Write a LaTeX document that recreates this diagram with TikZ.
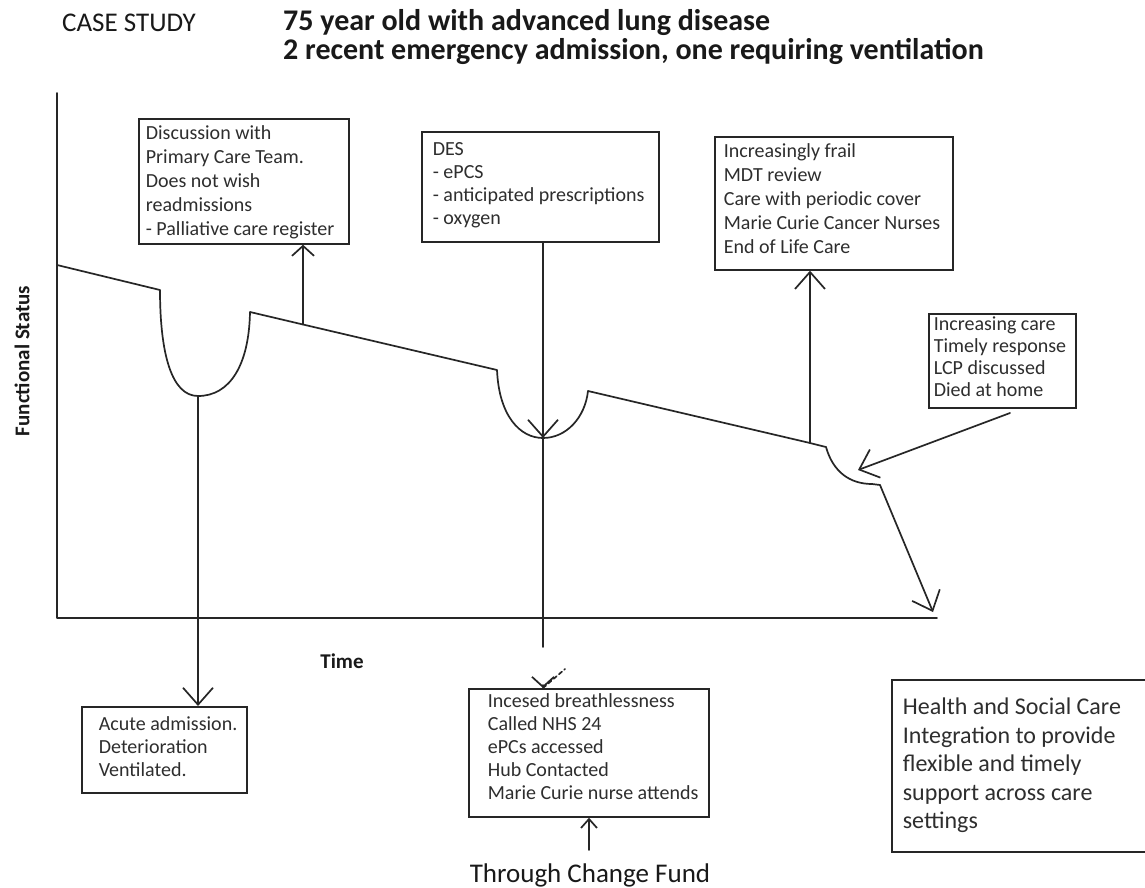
\documentclass[tikz,border=0pt]{standalone}
\usepackage{fontspec}
\setmainfont{Carlito}
\usetikzlibrary{arrows.meta,calc}

\newcommand\px[1]{\fontsize{#1}{#1}\selectfont}
% width, height, left pad, first baseline, font size, line skip, lines
\newcommand\panelbody[7]{%
  \parbox[t][#2][t]{#1}{\fontsize{#5}{#6}\selectfont\rule{0pt}{#4}\hspace*{#3}%
    \begin{tabular}[t]{@{}l@{}}#7\end{tabular}}}

\begin{document}
\begin{tikzpicture}[x=1pt,y=-1pt,
  ln/.style={line width=1.7pt, draw=black!85, line cap=round, line join=round},
  arr/.style={ln, -{Straight Barb[length=17pt,width=30pt]}},
  arrmid/.style={ln, -{Straight Barb[length=10pt,width=22pt]}},
  arrsmall/.style={ln, -{Straight Barb[length=9pt,width=16pt]}},
  panel/.style={draw=black!85, line width=1.7pt, inner sep=0pt, anchor=north west, text=black!82},
  lab/.style={inner sep=0pt, text=black!90}]
\useasboundingbox[fill=white] (0,0) rectangle (1145,888);

% headings
\node[lab, anchor=base west, font=\px{27}] (title) at (62,32) {CASE STUDY};
\node[lab, anchor=base west, font=\bfseries\px{30}] (hdrA) at (283,31) {75 year old with advanced lung disease};
\node[lab, anchor=base west, font=\bfseries\px{30}] (hdrB) at (283,60) {2 recent emergency admission, one requiring ventilation};

% axes and their labels
\coordinate (O) at (57,618);
\coordinate (ytop) at (57,93);
\coordinate (xend) at (937,618);
\draw[ln] (ytop) -- (O) -- (xend);
\node[lab, rotate=90, font=\bfseries\px{21}] (ylab) at (22,361) {Functional Status};
\node[lab, anchor=base, font=\bfseries\px{21}] (xlab) at (342,668) {Time};

% trajectory of functional status
\coordinate (s0) at (57,265);
\coordinate (d1a) at (160,290);
\coordinate (d1b) at (198,396);
\coordinate (d1c) at (250,312);
\coordinate (up1) at (303,324.5);
\coordinate (d2a) at (497,370);
\coordinate (d2b) at (543,438);
\coordinate (d2c) at (588,391);
\coordinate (up2) at (810,443);
\coordinate (d3a) at (826,447);
\coordinate (d3b) at (872,484);
\coordinate (d3c) at (880,485);
\coordinate (fall) at (933,612);
\draw[ln] (s0) -- (d1a) .. controls (160,355) and (172,396) .. (d1b)
  .. controls (230,396) and (249,365) .. (d1c) -- (up1) -- (d2a)
  .. controls (499,416) and (520,438) .. (d2b)
  .. controls (566,438) and (585,418) .. (d2c) -- (up2) -- (d3a)
  .. controls (833,472) and (850,484) .. (d3b) -- (d3c);

% event panels
\node[panel] (dis) at (138,118) {\panelbody{210pt}{125pt}{7pt}{21pt}{20}{24}{Discussion with\\Primary Care Team.\\Does not wish\\readmissions\\- Palliative care register}};
\node[panel] (des) at (421,131) {\panelbody{237pt}{110pt}{11pt}{24pt}{20}{23}{DES\\- ePCS\\- anticipated prescriptions\\- oxygen}};
\node[panel] (mdt) at (714,136) {\panelbody{238pt}{133pt}{9pt}{21pt}{20}{24}{Increasingly frail\\MDT review\\Care with periodic cover\\Marie Curie Cancer Nurses\\End of Life Care}};
\node[panel] (care) at (928,313) {\panelbody{147pt}{94pt}{5pt}{17pt}{20}{22}{Increasing care\\Timely response\\LCP discussed\\Died at home}};
\node[panel] (acute) at (81,706) {\panelbody{165pt}{86pt}{17pt}{24pt}{20}{23}{Acute admission.\\Deterioration\\Ventilated.}};
\node[panel] (inc) at (468,688) {\panelbody{240pt}{128pt}{19pt}{19pt}{20}{23}{Incesed breathlessness\\Called NHS 24\\ePCs accessed\\Hub Contacted\\Marie Curie nurse attends}};
\node[panel] (health) at (891,679) {\panelbody{265pt}{172pt}{11pt}{35pt}{24}{28.5}{Health and Social Care\\Integration to provide\\flexible and timely\\support across care\\settings}};
\node[lab, anchor=base, font=\px{27}] (fund) at (590,882) {Through Change Fund};

% connectors
\draw[arr] (d1b) -- (d1b |- acute.north);
\draw[arrmid] (up1) -- (up1 |- dis.south);
\draw[arr] (des.south -| d2b) -- (d2b);
\coordinate (tail) at (543,647);
\draw[ln] (d2b) -- (tail);
\coordinate (incTip) at (inc.north -| d2b);
\draw[arrmid] ([yshift=3pt]incTip) -- (incTip);
\draw[ln, dash pattern=on 4pt off 3pt] (incTip) -- ++(22,-19);
\coordinate (fundTop) at (589,850);
\draw[arrsmall] (fundTop) -- (fundTop |- inc.south);
\draw[arr] (up2) -- (up2 |- mdt.south);
\coordinate (careFoot) at (1010,413);
\coordinate (careTip) at (858,470);
\draw[arr] (careFoot) -- (careTip);
\draw[arr] (d3c) -- (fall);
\end{tikzpicture}
\end{document}
